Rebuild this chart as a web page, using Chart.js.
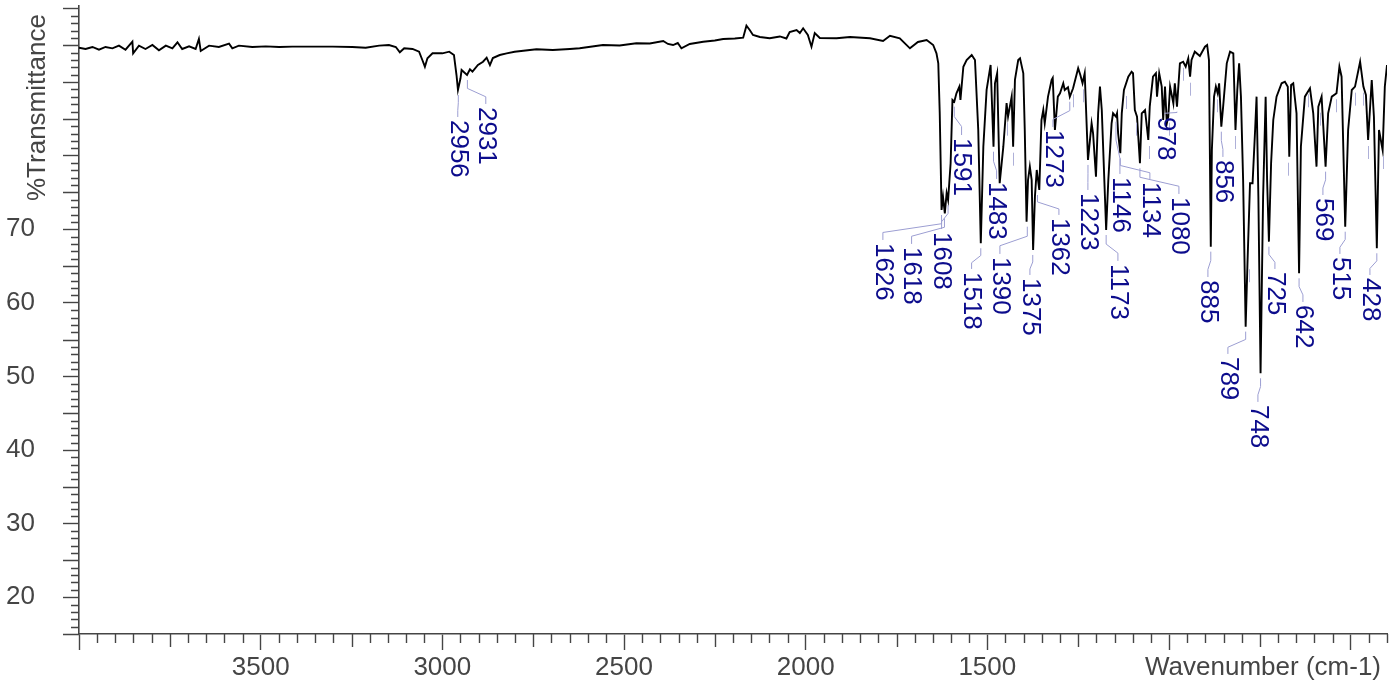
<!DOCTYPE html>
<html><head><meta charset="utf-8">
<script src="https://cdn.jsdelivr.net/npm/chart.js@4.4.1/dist/chart.umd.min.js"></script>
<style>html,body{margin:0;padding:0;background:#fff;overflow:hidden}#wrap{width:1395px;height:681px}</style>
</head><body><div id="wrap"><canvas id="c" width="1395" height="681"></canvas></div>
<script>
const wavenumber = [4000,3982,3963,3945,3927,3908,3890,3872,3853,3851,3835,3817,3798,3780,3761,3743,3729,3716,3697,3679,3670,3665,3642,3615,3587,3578,3560,3523,3486,3449,3413,3358,3302,3248,3211,3174,3147,3128,3117,3105,3082,3064,3055,3048,3041,3027,3000,2981,2968,2961,2957,2950,2947,2932,2924,2917,2902,2888,2878,2869,2861,2842,2823,2801,2741,2696,2649,2622,2558,2512,2466,2429,2392,2379,2365,2352,2342,2319,2282,2250,2227,2195,2172,2163,2154,2145,2126,2099,2071,2053,2044,2025,2016,2007,1994,1984,1975,1961,1915,1878,1823,1787,1768,1741,1713,1691,1667,1649,1640,1635,1631,1626,1622,1617,1612,1608,1601,1596,1591,1585,1577,1574,1566,1557,1543,1534,1525,1518,1511,1502,1491,1483,1479,1473,1466,1456,1447,1443,1433,1429,1424,1415,1410,1401,1397,1392,1388,1383,1378,1374,1369,1364,1357,1351,1346,1342,1333,1323,1320,1314,1306,1300,1291,1287,1278,1273,1264,1250,1244,1238,1232,1223,1213,1209,1201,1195,1190,1185,1173,1167,1158,1154,1146,1143,1140,1134,1130,1124,1112,1103,1099,1094,1088,1080,1075,1066,1057,1053,1044,1036,1033,1027,1020,1016,1011,1006,1002,997,988,984,978,970,961,954,947,942,938,929,915,901,895,890,885,882,876,871,866,862,856,851,841,832,823,817,812,807,802,796,789,784,777,770,763,759,754,748,741,734,730,725,719,713,704,690,681,673,669,664,658,649,642,637,626,612,603,594,589,580,569,562,552,539,531,525,515,507,497,488,474,465,458,452,442,436,428,422,412,406,400];
const transmittance = [94.67,94.50,94.77,94.40,94.77,94.59,94.95,94.40,95.49,93.91,94.95,94.50,95.04,94.32,94.95,94.59,95.41,94.50,94.86,94.50,95.86,94.23,94.95,94.77,95.22,94.59,94.95,94.77,94.86,94.77,94.82,94.82,94.82,94.77,94.67,94.95,95.04,94.77,94.05,94.59,94.50,94.13,93.00,92.09,93.23,93.91,93.91,94.13,93.68,90.96,88.93,90.52,91.64,90.96,91.74,91.41,92.32,92.77,93.32,92.32,93.27,93.68,93.91,94.13,94.46,94.36,94.50,94.59,95.04,94.97,95.27,95.24,95.58,95.18,95.04,95.31,94.59,95.18,95.49,95.65,95.86,95.92,96.03,97.66,97.08,96.40,96.13,95.95,96.20,95.92,96.81,97.08,96.67,97.31,96.40,94.81,96.67,95.99,95.95,96.13,95.95,95.58,96.30,95.95,94.59,95.45,95.72,95.04,93.91,92.55,85.76,72.62,74.43,72.17,74.93,73.98,79.01,87.57,87.34,88.48,89.38,87.57,92.09,93.00,93.68,93.00,83.49,68.10,81.22,88.93,92.32,81.22,89.84,91.20,76.25,81.22,87.16,85.30,88.02,81.22,90.29,93.00,93.23,91.20,83.49,71.03,76.70,78.51,76.70,67.19,74.43,78.06,75.34,84.85,86.21,84.40,88.02,90.29,90.56,83.49,88.02,88.48,89.84,88.93,89.30,88.00,89.16,91.88,90.96,89.84,91.20,79.42,84.40,83.04,77.15,85.76,89.38,86.21,69.90,76.70,84.40,85.76,85.30,85.76,83.04,80.33,85.76,88.93,90.73,91.41,91.20,86.21,85.30,78.97,85.76,86.21,82.13,86.66,90.73,91.20,88.02,91.20,89.38,84.85,89.38,84.40,85.30,89.38,87.12,89.84,86.66,92.55,92.77,92.09,93.23,90.73,93.00,94.13,93.55,94.81,95.04,93.00,67.64,80.77,88.02,89.38,88.48,89.84,83.94,86.66,92.55,94.13,93.91,83.49,88.93,92.55,88.02,76.70,56.77,65.38,76.25,76.25,83.49,88.02,74.43,50.43,74.43,88.02,76.70,68.32,78.97,84.85,88.02,89.84,90.05,89.38,79.86,89.61,89.84,85.76,64.02,81.22,88.02,89.16,85.76,78.51,86.66,88.02,78.51,85.76,88.02,88.48,92.09,90.73,70.35,83.49,88.93,89.38,92.77,89.38,88.25,82.13,90.29,85.30,67.42,83.49,80.77,89.38,92.32];
const peakPositions = [2956,2931,1626,1618,1608,1591,1518,1483,1390,1375,1362,1273,1223,1173,1146,1134,1080,978,885,856,789,748,725,642,569,515,428];
const unlabeledPeaks = [1447,1429,1264,1236,1119,1091,1055,1000,961,942,869,817,780,672,617,585,539,488,465,452,410];
const xTickValues = [4000,3500,3000,2500,2000,1500,1000,500];
const xTickLabels = ['3500','3000','2500','2000','1500'];
const yTickValues = [20,30,40,50,60,70,80,90,100];
const yTickLabels = ['20','30','40','50','60','70'];
const xTitle = 'Wavenumber (cm-1)';
const yTitle = '%Transmittance';

// label placement (layout only): [label centre wavenumber, label top %T]
const labelAnchors = {
  2956:[2957.5,84.85],2931:[2880.4,86.62],1626:[1787.5,68.14],1618:[1708.5,67.6],1608:[1625.9,69.63],
  1591:[1570.9,82.4],1518:[1543.3,64.2],1483:[1474.5,76.43],1390:[1465.4,66.24],1375:[1382.8,63.38],
  1362:[1303,71.54],1273:[1319.5,83.49],1223:[1223.2,74.93],1173:[1140.6,65.29],1146:[1135.1,77.11],
  1134:[1052.6,76.43],1080:[972.7,74.39],978:[1011.2,85.26],885:[892.9,63.1],856:[851.6,79.42],
  789:[837.9,52.65],748:[755.3,46.13],725:[708.5,64.2],642:[631.4,59.71],569:[576.4,74.25],
  515:[529.6,66.24],428:[447,63.38]
};

const FONT = "'Liberation Sans', Arial, sans-serif";
const AXIS = '#454545';

const points = wavenumber.map((w,i)=>({x:w,y:transmittance[i]}));

function troughValue(p){
  let m = Infinity;
  for (let i=0;i<wavenumber.length;i++){ if (Math.abs(wavenumber[i]-p)<=5 && transmittance[i]<m) m = transmittance[i]; }
  return m;
}

const decor = {
  id:'decor',
  afterDraw(chart){
    const ctx = chart.ctx, xs = chart.scales.x, ys = chart.scales.y;
    ctx.save();
    ctx.strokeStyle = AXIS; ctx.lineWidth = 1.4;
    ctx.beginPath();
    for (let w=400; w<=4000; w+=50){
      if (w%500===0) continue;
      const len = (w%250===0)?13:9;
      const px = Math.round(xs.getPixelForValue(w))+0.5;
      ctx.moveTo(px, ys.bottom); ctx.lineTo(px, ys.bottom+len);
    }
    for (let v=15; v<=100; v+=1){
      if (v%10===0) continue;
      const len = (v%5===0)?16:8;
      const py = Math.round(ys.getPixelForValue(v))+0.5;
      ctx.moveTo(xs.left-len, py); ctx.lineTo(xs.left, py);
    }
    ctx.stroke();
    ctx.fillStyle = AXIS; ctx.font = '26px '+FONT;
    ctx.textAlign = 'right'; ctx.textBaseline = 'alphabetic';
    ctx.fillText(xTitle, xs.right-6, 675);
    ctx.save();
    ctx.translate(45, 201); ctx.rotate(-Math.PI/2);
    ctx.textAlign = 'left'; ctx.fillText(yTitle, 0, 0);
    ctx.restore();
    ctx.strokeStyle = '#aeb0d8'; ctx.lineWidth = 1;
    ctx.beginPath();
    unlabeledPeaks.forEach(p=>{
      const px = Math.round(xs.getPixelForValue(p))+0.5;
      const py = ys.getPixelForValue(troughValue(p));
      ctx.moveTo(px, py+6); ctx.lineTo(px, py+19);
    });
    ctx.stroke();
    ctx.strokeStyle = '#9c9ed2';
    peakPositions.forEach(p=>{
      const a = labelAnchors[p];
      const px = xs.getPixelForValue(p);
      const y0 = ys.getPixelForValue(troughValue(p))+5;
      const lx = xs.getPixelForValue(a[0]);
      const ly = ys.getPixelForValue(a[1])-3;
      const span = ly - y0;
      ctx.beginPath();
      ctx.moveTo(px, y0);
      ctx.lineTo(px, y0+span*0.35);
      ctx.lineTo(lx, ly-span*0.3);
      ctx.lineTo(lx, ly);
      ctx.stroke();
    });
    ctx.fillStyle = '#0c0c8c'; ctx.font = '26px '+FONT;
    ctx.textAlign = 'left'; ctx.textBaseline = 'middle';
    peakPositions.forEach(p=>{
      const a = labelAnchors[p];
      ctx.save();
      ctx.translate(xs.getPixelForValue(a[0]), ys.getPixelForValue(a[1]));
      ctx.rotate(Math.PI/2);
      ctx.fillText(String(p), 0, 0);
      ctx.restore();
    });
    ctx.restore();
  }
};

new Chart(document.getElementById('c'), {
  type:'line',
  data:{ datasets:[{ data:points, borderColor:'#000', borderWidth:1.9, pointRadius:0, tension:0, fill:false }] },
  options:{
    responsive:false, animation:false, devicePixelRatio:1,
    layout:{ padding:{ top:6, right:8, left:0, bottom:0 } },
    plugins:{ legend:{display:false}, tooltip:{enabled:false} },
    scales:{
      x:{ type:'linear', reverse:true, min:400, max:4000,
        afterBuildTicks:s=>{ s.ticks = xTickValues.map(v=>({value:v})); },
        afterFit:s=>{ s.height = 47; s.paddingLeft = 0; s.paddingRight = 0; },
        ticks:{ autoSkip:false, maxRotation:0, padding:2, color:AXIS, font:{family:FONT,size:26},
          callback:v=> xTickLabels.includes(String(v)) ? String(v) : '' },
        grid:{ drawOnChartArea:false, drawTicks:true, tickLength:16, tickColor:AXIS, tickWidth:1.4 },
        border:{ display:true, color:AXIS, width:1.6 } },
      y:{ type:'linear', min:15, max:100.34,
        afterBuildTicks:s=>{ s.ticks = yTickValues.map(v=>({value:v})); },
        afterFit:s=>{ s.width = 79; s.paddingTop = 0; s.paddingBottom = 0; },
        ticks:{ autoSkip:false, padding:28, color:AXIS, font:{family:FONT,size:26},
          callback:v=> yTickLabels.includes(String(v)) ? String(v) : '' },
        grid:{ drawOnChartArea:false, drawTicks:true, tickLength:16, tickColor:AXIS, tickWidth:1.4 },
        border:{ display:true, color:AXIS, width:1.6 } }
    }
  },
  plugins:[decor]
});
</script></body></html>
